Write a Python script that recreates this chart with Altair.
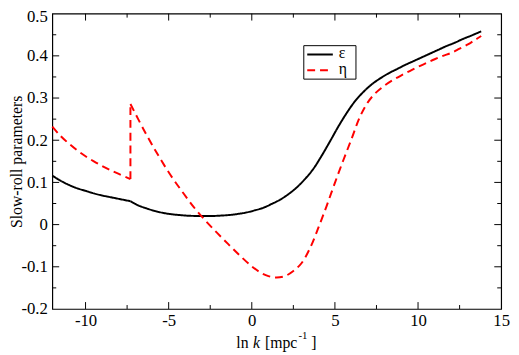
import altair as alt
import pandas as pd

# --- data ---
# epsilon: two pieces joined at the kink near ln k = -7.3
eps1_x = [-12, -11.5, -11, -10.5, -10, -9.5, -9, -8.5, -8, -7.3]
eps1_y = [0.116, 0.104, 0.094, 0.086, 0.080, 0.074, 0.069, 0.065, 0.061, 0.0555]
eps2_x = [-7.3, -6.8, -6.3, -5.8, -5.3, -4.8, -4.3, -3.8, -3.3, -2.8, -2.3, -1.8, -1.3, -0.8,
          -0.3, 0.2, 0.7, 1.2, 1.7, 2.2, 2.7, 3.2, 3.7, 4.2, 4.7, 5.2, 5.7, 6.2, 6.7, 7.2, 7.7,
          8.2, 8.7, 9.2, 9.7, 10.2, 10.7, 11.2, 11.7, 12.2, 12.7, 13.2, 13.8]
eps2_y = [0.0555, 0.045, 0.038, 0.032, 0.0275, 0.0245, 0.0225, 0.021, 0.0205, 0.0203, 0.0205,
          0.0215, 0.023, 0.0255, 0.029, 0.034, 0.040, 0.049, 0.059, 0.072, 0.088, 0.108, 0.132,
          0.163, 0.197, 0.232, 0.264, 0.292, 0.314, 0.332, 0.346, 0.358, 0.368, 0.378, 0.387,
          0.396, 0.405, 0.414, 0.423, 0.431, 0.440, 0.448, 0.458]
# eta: before the jump, the jump, after the jump
eta1_x = [-12, -11.5, -11, -10.5, -10, -9.5, -9, -8.5, -8, -7.3]
eta1_y = [0.232, 0.210, 0.192, 0.176, 0.162, 0.150, 0.139, 0.129, 0.120, 0.108]
eta2_x = [-7.3, -7.3]
eta2_y = [0.108, 0.286]
eta3_x = [-7.3, -6.5, -5.7, -4.9, -4.2, -3.5, -2.8, -2.1, -1.4, -0.7, 0.0, 0.5, 1.0, 1.5, 2.0,
          2.5, 3.0, 3.5, 4.0, 4.5, 5.0, 5.5, 6.0, 6.5, 7.0, 7.5, 8.0, 8.5, 9.0, 9.5, 10.0, 10.5,
          11.0, 11.5, 12.0, 12.5, 13.0, 13.4, 13.8]
eta3_y = [0.286, 0.225, 0.169, 0.118, 0.079, 0.042, 0.010, -0.019, -0.047, -0.074, -0.099,
          -0.113, -0.122, -0.1255, -0.122, -0.110, -0.091, -0.056, -0.008, 0.044, 0.099, 0.152,
          0.203, 0.255, 0.291, 0.314, 0.330, 0.343, 0.354, 0.364, 0.374, 0.383, 0.392, 0.400,
          0.407, 0.417, 0.427, 0.437, 0.447]

series_names = ["ε", "η"]
series_colors = ["black", "red"]
series_dash = [[1, 0], [8, 5]]

x_major = [-10, -5, 0, 5, 10]
x_minor = [-7.5, -2.5, 2.5, 7.5, 12.5]
y_major = [-0.1, 0, 0.1, 0.2, 0.3, 0.4]
y_minor = [-0.15, -0.05, 0.05, 0.15, 0.25, 0.35, 0.45]
x_labels = [-10, -5, 0, 5, 10, 15]
y_labels = [-0.2, -0.1, 0, 0.1, 0.2, 0.3, 0.4, 0.5]

W, H = 456, 300
FONT = "'Liberation Serif', 'Times New Roman', serif"

parts = [(eps1_x, eps1_y, 0, "e1"), (eps2_x, eps2_y, 0, "e2"),
         (eta1_x, eta1_y, 1, "h1"), (eta2_x, eta2_y, 1, "h2"), (eta3_x, eta3_y, 1, "h3")]
df = pd.concat([pd.DataFrame({"x": px, "y": py, "s": series_names[i], "seg": sg, "o": range(len(px))})
                for px, py, i, sg in parts])

xscale = alt.Scale(domain=[-12, 15], nice=False, zero=False)
yscale = alt.Scale(domain=[-0.2, 0.5], nice=False, zero=False)
cscale = alt.Scale(domain=series_names, range=series_colors)
dscale = alt.Scale(domain=series_names, range=series_dash)

lines = alt.Chart(df).mark_line(strokeWidth=2, interpolate="catmull-rom").encode(
    x=alt.X("x:Q", scale=xscale,
            axis=alt.Axis(values=x_labels, ticks=False, domain=False, grid=False,
                          labelFont=FONT, labelFontSize=17, labelColor="black",
                          labelFlush=False, labelPadding=4, labelExpr="toString(datum.value)",
                          title=None)),
    y=alt.Y("y:Q", scale=yscale,
            axis=alt.Axis(values=y_labels, ticks=False, domain=False, grid=False,
                          labelFont=FONT, labelFontSize=17, labelColor="black",
                          labelFlush=False, labelPadding=5, labelExpr="toString(datum.value)",
                          labelOffset=alt.condition("datum.value == 0.5", alt.value(3), alt.value(0)),
                          title="Slow-roll parameters", titleFont=FONT, titleFontSize=16,
                          titleFontWeight="normal", titleColor="black",
                          titleX=-28, titleY=H / 2, titleBaseline="bottom", titleAngle=270)),
    color=alt.Color("s:N", scale=cscale, legend=None),
    strokeDash=alt.StrokeDash("s:N", scale=dscale, legend=None),
    detail="seg:N",
    order="o:Q",
)

def xticks(vals, length):
    d = pd.DataFrame({"v": vals})
    b = alt.Chart(d).mark_rule(color="black", strokeWidth=1).encode(
        x=alt.X("v:Q", scale=xscale), y=alt.value(H), y2=alt.value(H - length))
    t = alt.Chart(d).mark_rule(color="black", strokeWidth=1).encode(
        x=alt.X("v:Q", scale=xscale), y=alt.value(0), y2=alt.value(length))
    return b + t

def yticks(vals, length):
    d = pd.DataFrame({"v": vals})
    l = alt.Chart(d).mark_rule(color="black", strokeWidth=1).encode(
        y=alt.Y("v:Q", scale=yscale), x=alt.value(0), x2=alt.value(length))
    r = alt.Chart(d).mark_rule(color="black", strokeWidth=1).encode(
        y=alt.Y("v:Q", scale=yscale), x=alt.value(W), x2=alt.value(W - length))
    return l + r

one = pd.DataFrame({"a": [0]})
def txt(s, x, y, size=16, style="normal"):
    return alt.Chart(one).mark_text(text=s, font=FONT, fontSize=size, fontStyle=style,
                                    align="left", baseline="alphabetic", color="black").encode(
        x=alt.value(x), y=alt.value(y))

xtitle = (txt("ln", 187, 340) + txt("k", 204, 340, style="italic") + txt("[mpc", 216, 340)
          + txt("-1", 250, 330, size=11) + txt("]", 263, 340))

# legend drawn as marks
leg = pd.DataFrame({"s": series_names})
legend_box = alt.Chart(one).mark_rect(fill="white", stroke="black", strokeWidth=1).encode(
    x=alt.value(255.5), x2=alt.value(308.5), y=alt.value(32.5), y2=alt.value(66.5))

def legend_row(i, ypos):
    d = leg.iloc[[i]]
    ln = alt.Chart(d).mark_rule(strokeWidth=2).encode(
        x=alt.value(259), x2=alt.value(285), y=alt.value(ypos),
        color=alt.Color("s:N", scale=cscale, legend=None),
        strokeDash=alt.StrokeDash("s:N", scale=dscale, legend=None))
    tx = alt.Chart(d).mark_text(font=FONT, fontSize=16, align="left", baseline="middle",
                                color="black").encode(
        x=alt.value(291), y=alt.value(ypos - 1), text="s:N")
    return ln + tx

chart = alt.layer(
    lines, xticks(x_major, 7), xticks(x_minor, 4), yticks(y_major, 7), yticks(y_minor, 4), xtitle,
    legend_box, legend_row(0, 41.5), legend_row(1, 57.5)
).properties(
    width=W, height=H,
    autosize=alt.AutoSizeParams(type="none"),
    padding={"left": 45, "top": 3, "right": 10, "bottom": 44},
).configure_view(stroke="black", strokeWidth=1.2)

chart.save("out.html", embed_options={"renderer": "svg", "actions": False})
